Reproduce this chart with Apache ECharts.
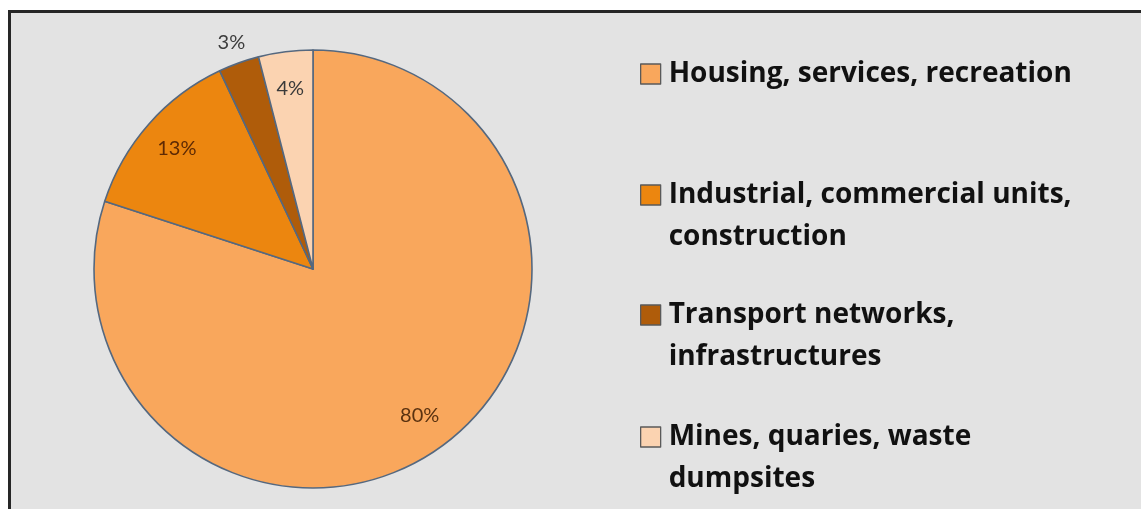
<!DOCTYPE html>
<html>
<head>
<meta charset="utf-8">
<script src="https://cdn.jsdelivr.net/npm/echarts@6/dist/echarts.min.js"></script>
<style>
  html, body { margin: 0; padding: 0; background: #ffffff; }
  #chart { width: 1141px; height: 509px; }
</style>
</head>
<body>
<div id="chart"></div>
<script>
// Land take by type of artificial use (% share)
const categories = [
  'Housing, services, recreation',
  'Industrial, commercial units, construction',
  'Transport networks, infrastructures',
  'Mines, quaries, waste dumpsites'
];
const shares = [80, 13, 3, 4];
// Legend text with manual line breaks
const legendLines = [
  ['Housing, services, recreation'],
  ['Industrial, commercial units,', 'construction'],
  ['Transport networks,', 'infrastructures'],
  ['Mines, quaries, waste', 'dumpsites']
];

const sliceColors = ['#F9A75C', '#EC860F', '#AF5C0A', '#FBD3B1'];
const labelColors = ['#5a3210', '#5e2a04', '#3c3c3c', '#3a3a3a'];
const LABEL_FONT = 'Lato, "Open Sans", sans-serif';
const LEGEND_FONT = '"Open Sans", Lato, sans-serif';
const CX = 313, CY = 269, R = 219;
const LINE_H = 42;
// Vertical centre of each legend entry's first text line
const legendCentres = [74, 195, 315, 437];

const chart = echarts.init(document.getElementById('chart'), null, { renderer: 'canvas' });

const sliceData = categories.map((name, i) => ({
  name: name,
  value: shares[i],
  itemStyle: { color: sliceColors[i] }
}));

// Labels sit on a transparent ring so they land about 4/5 of the way out
const innerLabelData = categories.map((name, i) => ({
  name: name,
  value: shares[i],
  label: { show: i !== 2, color: labelColors[i] }
}));
// The thin 3% slice gets its label just outside the rim
const outerLabelData = categories.map((name, i) => ({
  name: name,
  value: shares[i],
  label: { show: i === 2, color: labelColors[i] }
}));

const legends = categories.map((name, i) => {
  const lines = legendLines[i];
  const multi = lines.length > 1;
  // A blank leading line keeps the marker level with the first text line
  const text = multi ? ['', ...lines].join('\n') : lines[0];
  const halfBlock = multi ? LINE_H * 1.5 : LINE_H / 2;
  return {
    data: [name],
    left: 640,
    top: legendCentres[i] - halfBlock,
    padding: 0,
    icon: 'rect',
    itemWidth: 20,
    itemHeight: 20,
    selectedMode: false,
    itemStyle: { borderColor: '#5a5a5a', borderWidth: 1.3 },
    formatter: () => text,
    textStyle: {
      fontFamily: LEGEND_FONT,
      fontWeight: 'bold',
      fontSize: 28,
      color: '#111111',
      lineHeight: LINE_H,
      padding: [0, 0, 0, 3]
    }
  };
});

const ringBase = {
  type: 'pie',
  center: [CX, CY],
  startAngle: 90,
  clockwise: true,
  silent: true,
  animation: false,
  itemStyle: { color: 'rgba(0,0,0,0)', borderWidth: 0 },
  labelLine: { show: false },
  emphasis: { disabled: true },
  label: {
    position: 'inside',
    formatter: '{c}%',
    fontFamily: LABEL_FONT,
    fontSize: 20
  }
};

chart.setOption({
  animation: false,
  graphic: [{
    type: 'rect',
    z: -10,
    silent: true,
    shape: { x: 9.5, y: 11.5, width: 1400, height: 700 },
    style: { fill: '#E3E3E3', stroke: '#262626', lineWidth: 3 }
  }],
  legend: legends,
  series: [
    {
      name: 'Land use',
      type: 'pie',
      center: [CX, CY],
      radius: [0, R],
      startAngle: 90,
      clockwise: true,
      animation: false,
      data: sliceData,
      itemStyle: { borderColor: '#55687f', borderWidth: 1.6 },
      label: { show: false },
      labelLine: { show: false },
      emphasis: { disabled: true }
    },
    Object.assign({}, ringBase, { name: 'inner labels', radius: [138, R], data: innerLabelData }),
    Object.assign({}, ringBase, { name: 'outer labels', radius: [228, 248], data: outerLabelData })
  ]
});
</script>
</body>
</html>
